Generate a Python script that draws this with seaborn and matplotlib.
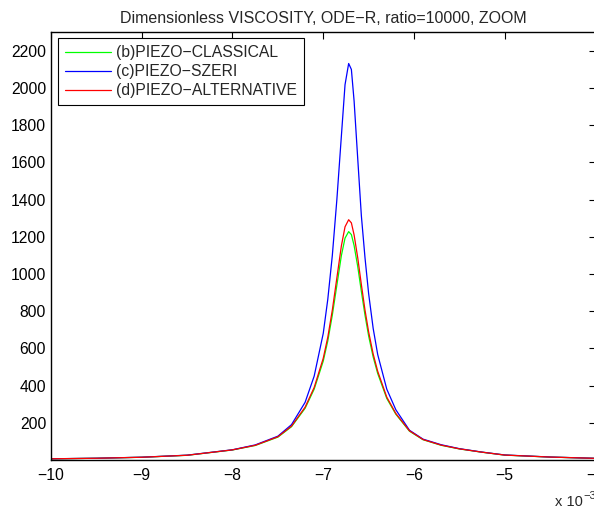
"""Dimensionless viscosity zoom plot (ODE-R, ratio=10000)."""

import matplotlib

matplotlib.use("Agg")

import pandas as pd
import seaborn as sns
from matplotlib import pyplot as plt

# x positions in units of 1e-3
x_milli = [
    -10.0, -9.5, -9.0, -8.5, -8.0, -7.75, -7.5, -7.35, -7.2, -7.1,
    -7.0, -6.95, -6.9, -6.85, -6.8, -6.76, -6.72, -6.69, -6.66, -6.62,
    -6.58, -6.54, -6.5, -6.45, -6.4, -6.3, -6.2, -6.05, -5.9, -5.7,
    -5.5, -5.25, -5.0, -4.5, -4.0,
]
classical = [
    6.3, 9.3, 14.7, 25.3, 54, 78, 123, 179, 278, 381,
    532, 640, 779, 940, 1100, 1193, 1228, 1212, 1153, 1040,
    906, 779, 667, 554, 465, 331, 246, 155, 109, 79,
    59.5, 41.8, 26.3, 15.7, 8.8,
]
szeri = [
    6.5, 9.5, 15, 26, 55, 81, 128, 190, 310, 451,
    681, 864, 1100, 1400, 1744, 2018, 2132, 2100, 1930, 1620,
    1313, 1088, 895, 708, 567, 381, 270, 160, 112, 82,
    61, 42.5, 27, 16, 9,
]
alternative = [
    6.4, 9.4, 14.8, 25.5, 54.5, 79, 125, 182, 284, 390,
    547, 660, 806, 979, 1152, 1254, 1292, 1275, 1210, 1087,
    943, 806, 689, 570, 477, 338, 250, 157, 110, 80,
    60, 42, 26.5, 15.8, 8.9,
]
labels = ["(b)PIEZO\u2212CLASSICAL", "(c)PIEZO\u2212SZERI", "(d)PIEZO\u2212ALTERNATIVE"]
colors = ["#00ff00", "#0000ff", "#ff0000"]
x_ticks = [-10, -9, -8, -7, -6, -5, -4]
y_ticks = [200, 400, 600, 800, 1000, 1200, 1400, 1600, 1800, 2000, 2200]

frame = pd.concat(
    [
        pd.DataFrame({"x": x_milli, "viscosity": vals, "method": lab})
        for vals, lab in zip([classical, szeri, alternative], labels)
    ],
    ignore_index=True,
)

sns.set_style("white")
plt.rcParams["font.family"] = ["Liberation Sans", "DejaVu Sans"]
plt.rcParams["font.size"] = 11.3

fig = plt.figure(figsize=(5.94, 5.09), dpi=100)
ax = fig.add_axes([51 / 594, 49 / 509, 544.5 / 594, 428.3 / 509])

sns.lineplot(
    data=frame,
    x="x",
    y="viscosity",
    hue="method",
    hue_order=labels,
    palette=colors,
    linewidth=0.9,
    estimator=None,
    sort=False,
    ax=ax,
)

ax.set_xlim(-10, -4)
ax.set_ylim(0, 2303)
ax.set_xticks(x_ticks)
ax.set_yticks(y_ticks)
ax.set_xlabel("")
ax.set_ylabel("")
ax.tick_params(direction="in", top=True, right=True, length=5, width=0.8,
               labelsize=11.3, colors="black")
ax.tick_params(axis="x", pad=6)
ax.tick_params(axis="y", pad=3.5)
for spine in ax.spines.values():
    spine.set_color("black")
    spine.set_linewidth(1.0)

ax.set_title("Dimensionless VISCOSITY, ODE\u2212R, ratio=10000, ZOOM", fontsize=11.5, pad=6)

ax.legend(
    loc="upper left",
    bbox_to_anchor=(0.0129, 0.985),
    borderaxespad=0,
    frameon=True,
    fancybox=False,
    edgecolor="black",
    framealpha=1,
    handlelength=2.9,
    handletextpad=0.35,
    labelspacing=0.25,
    borderpad=0.45,
    fontsize=11.3,
)
ax.get_legend().get_frame().set_linewidth(0.8)

# MATLAB-style exponent label in the bottom-right corner
fig.text(555 / 594, 3 / 509, "x 10", fontsize=10.5, ha="left", va="baseline")
fig.text(583 / 594, 10 / 509, "\u22123", fontsize=8, ha="left", va="baseline")

fig.savefig("out.png", dpi=100)
